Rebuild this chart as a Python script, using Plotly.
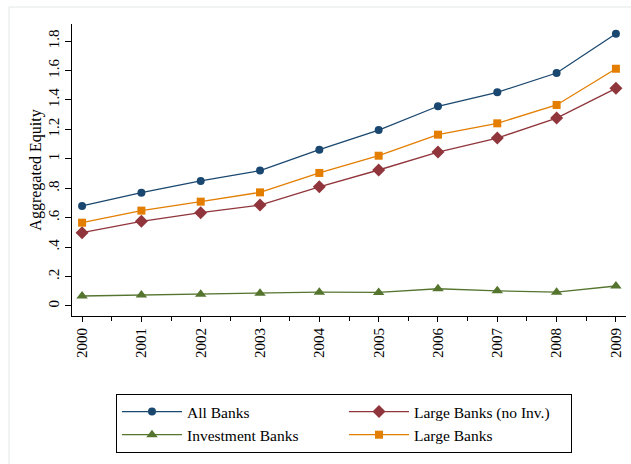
import plotly.graph_objects as go

years = [2000, 2001, 2002, 2003, 2004, 2005, 2006, 2007, 2008, 2009]
all_banks = [0.68, 0.77, 0.85, 0.92, 1.062, 1.195, 1.357, 1.452, 1.583, 1.85]
large_no_inv = [0.498, 0.575, 0.634, 0.686, 0.81, 0.924, 1.046, 1.141, 1.277, 1.479]
investment = [0.068, 0.074, 0.079, 0.086, 0.094, 0.092, 0.117, 0.103, 0.094, 0.136]
large_banks = [0.566, 0.648, 0.709, 0.772, 0.904, 1.021, 1.164, 1.241, 1.366, 1.612]

y_tickvals = [0, 0.2, 0.4, 0.6, 0.8, 1.0, 1.2, 1.4, 1.6, 1.8]
y_ticktext = ["0", ".2", ".4", ".6", ".8", "1", "1.2", "1.4", "1.6", "1.8"]

series = [
    ("All Banks", all_banks, "#1a476f", "circle", 8),
    ("Large Banks (no Inv.)", large_no_inv, "#90353b", "diamond", 10),
    ("Investment Banks", investment, "#55752f", "triangle-up", 10),
    ("Large Banks", large_banks, "#e37e00", "square", 8),
]

fig = go.Figure()
for name, vals, color, sym, sz in series:
    fig.add_trace(go.Scatter(
        x=years, y=vals, name=name, mode="lines+markers",
        line=dict(color=color, width=1.3),
        marker=dict(color=color, symbol=sym, size=sz, line=dict(width=0)),
    ))

font = "Liberation Serif, Times New Roman, serif"

fig.update_layout(
    width=631, height=464,
    paper_bgcolor="white", plot_bgcolor="white",
    margin=dict(l=72, r=5, t=24, b=148),
    font=dict(family=font, size=15, color="black"),
    showlegend=True,
    legend=dict(
        orientation="h", x=0.0794, y=-0.267, xanchor="left", yanchor="top",
        bordercolor="black", borderwidth=1, bgcolor="white",
        font=dict(family=font, size=15.5, color="black"),
        entrywidth=152, entrywidthmode="pixels", itemwidth=60,
        traceorder="normal",
    ),
    xaxis=dict(
        range=[1999.83, 2009.17], tickmode="linear", tick0=2000, dtick=1,
        tickangle=-90, ticks="outside", ticklen=5, tickcolor="black",
        showline=True, linecolor="black", linewidth=1, showgrid=False,
        zeroline=False, tickfont=dict(family=font, size=15, color="black"),
        minor=dict(dtick=0.5, tick0=2000, ticks="outside", ticklen=4, tickcolor="black", showgrid=False),
    ),
    yaxis=dict(
        range=[-0.068, 1.916], tickmode="array", tickvals=y_tickvals, ticktext=y_ticktext,
        tickangle=-90, ticks="outside", ticklen=6, tickcolor="black",
        showline=True, linecolor="black", linewidth=1, showgrid=False,
        zeroline=False, tickfont=dict(family=font, size=15, color="black"),
        title=dict(text="Aggregated Equity", font=dict(family=font, size=16, color="black"), standoff=0),
    ),
    shapes=[dict(type="rect", xref="paper", yref="paper",
                 x0=-0.1137, x1=1.2, y0=-1.0, y1=1.0582,
                 line=dict(color="#e3e8e8", width=1), fillcolor="rgba(0,0,0,0)", layer="below")],
)

fig.write_html("out.html", config={"displayModeBar": False},
               post_script="document.body.style.margin='0';document.body.style.overflow='hidden';")
